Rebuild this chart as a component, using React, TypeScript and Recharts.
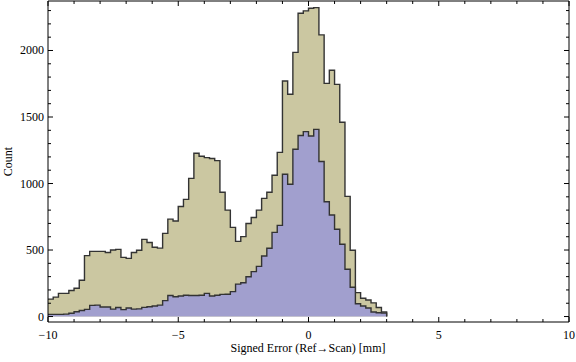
import React from 'react';
import { ComposedChart, Area, XAxis, YAxis, Label } from 'recharts';

// Histogram bins: left edges start at BIN_START, each BIN_WIDTH wide
const BIN_START = -10;
const BIN_WIDTH = 0.2;

// Counts of all points per bin (beige histogram)
const allCounts = [
  131, 146, 174, 174, 196, 213, 273, 458, 490, 490,
  490, 482, 500, 505, 445, 437, 481, 498, 580, 557,
  521, 514, 625, 732, 718, 827, 881, 1039, 1227, 1205,
  1195, 1188, 1172, 934, 800, 670, 565, 601, 700, 745,
  800, 888, 934, 1062, 1234, 1771, 1671, 1986, 2280, 2298,
  2318, 2322, 2117, 1753, 1851, 1745, 1460, 903, 498, 180,
  137, 124, 103, 68, 34,
];

// Counts of the subset per bin (blue histogram)
const subsetCounts = [
  16, 16, 16, 18, 25, 36, 45, 54, 84, 86,
  72, 72, 56, 68, 52, 64, 56, 58, 69, 74,
  79, 86, 120, 158, 149, 154, 160, 158, 158, 160,
  174, 155, 160, 167, 168, 187, 244, 254, 299, 338,
  377, 455, 513, 633, 685, 1070, 995, 1258, 1361, 1390,
  1357, 1407, 1165, 863, 763, 656, 543, 356, 220, 96,
  79, 64, 34, 28, 26,
];

const X_MAJOR = [-10, -5, 0, 5, 10];
const X_TICKS = [-10, -9, -8, -7, -6, -5, -4, -3, -2, -1, 0, 1, 2, 3, 4, 5, 6, 7, 8, 9, 10];
const Y_MAJOR = [0, 500, 1000, 1500, 2000];
const Y_TICKS = [0, 100, 200, 300, 400, 500, 600, 700, 800, 900, 1000, 1100, 1200, 1300, 1400, 1500, 1600, 1700, 1800, 1900, 2000, 2100, 2200, 2300];

const X_DOMAIN: [number, number] = [-10, 10];
const Y_DOMAIN: [number, number] = [-41, 2372];

const data = allCounts.map((v, i) => ({
  x: BIN_START + i * BIN_WIDTH,
  all: v,
  sub: subsetCounts[i],
}));
data.push({ x: BIN_START + allCounts.length * BIN_WIDTH, all: 0, sub: 0 });

const FONT = '"Liberation Serif", "Times New Roman", serif';
const MAJOR_LEN = 5;
const MINOR_LEN = 3;

const fmt = (v: number) => (v < 0 ? '\u2212' + Math.abs(v) : String(v));

const BottomTick = (p: any) => {
  const { x, y, payload } = p;
  const v = payload.value;
  const major = X_MAJOR.includes(v);
  return (
    <g>
      <line x1={x} y1={y} x2={x} y2={y - (major ? MAJOR_LEN : MINOR_LEN)} stroke="#000" strokeWidth={1} />
      {major && (
        <text x={x} y={y + 17} textAnchor="middle" fontFamily={FONT} fontSize={12} fill="#000">
          {fmt(v)}
        </text>
      )}
    </g>
  );
};

const TopTick = (p: any) => {
  const { x, y, payload } = p;
  const major = X_MAJOR.includes(payload.value);
  return <line x1={x} y1={y} x2={x} y2={y + (major ? MAJOR_LEN : MINOR_LEN)} stroke="#000" strokeWidth={1} />;
};

const LeftTick = (p: any) => {
  const { x, y, payload } = p;
  const v = payload.value;
  const major = Y_MAJOR.includes(v);
  return (
    <g>
      <line x1={x} y1={y} x2={x + (major ? MAJOR_LEN : MINOR_LEN)} y2={y} stroke="#000" strokeWidth={1} />
      {major && (
        <text x={x - 4} y={y + 4} textAnchor="end" fontFamily={FONT} fontSize={12} fill="#000">
          {fmt(v)}
        </text>
      )}
    </g>
  );
};

const RightTick = (p: any) => {
  const { x, y, payload } = p;
  const major = Y_MAJOR.includes(payload.value);
  return <line x1={x} y1={y} x2={x - (major ? MAJOR_LEN : MINOR_LEN)} y2={y} stroke="#000" strokeWidth={1} />;
};

export default function App() {
  return (
    <div style={{ position: 'absolute', left: 0, top: 0, width: 576, height: 362, background: '#fff' }}>
      <ComposedChart
        width={576}
        height={362}
        data={data}
        margin={{ top: 0, right: 6, bottom: 39, left: 47 }}
      >
        <XAxis
          xAxisId="b"
          dataKey="x"
          type="number"
          domain={X_DOMAIN}
          allowDataOverflow
          ticks={X_TICKS}
          interval={0}
          height={1}
          tickSize={0}
          tickMargin={0}
          tickLine={false}
          axisLine={{ stroke: '#000', strokeWidth: 1 }}
          tick={BottomTick}
        >
          <Label
            content={() => (
              <text x={308} y={352} textAnchor="middle" fontFamily={FONT} fontSize={12} fill="#000">
                Signed Error (Ref→Scan) [mm]
              </text>
            )}
          />
        </XAxis>
        <XAxis
          xAxisId="t"
          orientation="top"
          dataKey="x"
          type="number"
          domain={X_DOMAIN}
          allowDataOverflow
          ticks={X_TICKS}
          interval={0}
          height={1}
          tickSize={0}
          tickMargin={0}
          tickLine={false}
          axisLine={{ stroke: '#000', strokeWidth: 1 }}
          tick={TopTick}
        />
        <YAxis
          yAxisId="l"
          type="number"
          domain={Y_DOMAIN}
          allowDataOverflow
          ticks={Y_TICKS}
          interval={0}
          width={1}
          tickSize={0}
          tickMargin={0}
          tickLine={false}
          axisLine={{ stroke: '#000', strokeWidth: 1 }}
          tick={LeftTick}
        >
          <Label
            content={() => (
              <text
                x={12}
                y={161.5}
                textAnchor="middle"
                fontFamily={FONT}
                fontSize={12}
                fill="#000"
                transform="rotate(-90 12 161.5)"
              >
                Count
              </text>
            )}
          />
        </YAxis>
        <YAxis
          yAxisId="r"
          orientation="right"
          type="number"
          domain={Y_DOMAIN}
          allowDataOverflow
          ticks={Y_TICKS}
          interval={0}
          width={1}
          tickSize={0}
          tickMargin={0}
          tickLine={false}
          axisLine={{ stroke: '#000', strokeWidth: 1 }}
          tick={RightTick}
        />
        <Area
          xAxisId="b"
          yAxisId="l"
          type="stepAfter"
          dataKey="all"
          baseValue={0}
          fill="#CBC7A1"
          fillOpacity={1}
          stroke="#333333"
          strokeWidth={1.4}
          dot={false}
          activeDot={false}
          isAnimationActive={false}
        />
        <Area
          xAxisId="b"
          yAxisId="l"
          type="stepAfter"
          dataKey="sub"
          baseValue={0}
          fill="#A19FCE"
          fillOpacity={1}
          stroke="#333333"
          strokeWidth={1.4}
          dot={false}
          activeDot={false}
          isAnimationActive={false}
        />
      </ComposedChart>
    </div>
  );
}
